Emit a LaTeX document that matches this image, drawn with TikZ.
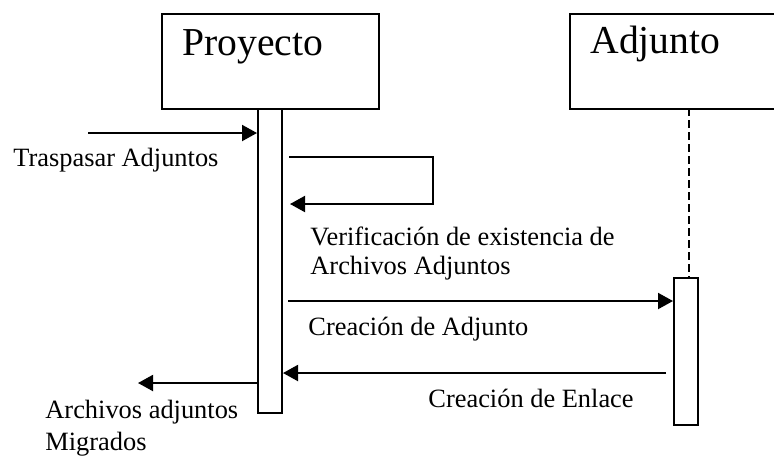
\documentclass[tikz,border=0pt]{standalone}
\usepackage{fontspec}
\setmainfont{Liberation Serif}
\usetikzlibrary{arrows.meta}
\tikzset{
    obj/.style={draw, line width=1pt, inner sep=0pt, anchor=north west},
    act/.style={draw, line width=1pt, fill=white, inner sep=0pt, minimum width=12pt, anchor=north west},
    msg/.style={line width=1pt, -{Triangle[length=7.5pt,width=8pt]}},
    lbl/.style={anchor=base west, inner sep=0pt, font=\fontsize{13.2}{14.5}\selectfont, align=left},
    title/.style={anchor=base west, inner sep=0pt, font=\fontsize{19.8}{22}\selectfont}
}
\begin{document}
\begin{tikzpicture}[x=0.5pt,y=-0.5pt]
        \useasboundingbox (0,0) rectangle (774,457);
        \clip (0,0) rectangle (774,457);

        % Objects
        \node[obj, minimum width=108.5pt, minimum height=47.5pt] (proyecto) at (161,13) {};
        \node[title] (proyectoT) at (182,55) {Proyecto};
        \node[obj, minimum width=110pt, minimum height=47.5pt] (adjunto) at (569,13) {};
        \node[title] (adjuntoT) at (590,53) {Adjunto};

        % Lifeline of Adjunto
        \coordinate (lifeA) at (689,108);
        \node[act, minimum height=73.5pt] (barA) at (673,277) {};
        \draw[line width=0.7pt, dash pattern=on 4pt off 2pt] (lifeA) -- (lifeA |- barA.north);

        % Activation of Proyecto
        \node[act, minimum height=152pt] (barP) at (257,108) {};

        % Incoming message
        \coordinate (inS) at (88,133);
        \draw[msg] (inS) -- (inS -| barP.west);
        \node[lbl] (inL) at (13,166) {Traspasar Adjuntos};

        % Self call
        \coordinate (selfS) at (289,157);
        \coordinate (selfC) at (433,204);
        \coordinate (selfE) at (290,204);
        \draw[msg] (selfS) -| (selfC) -- (selfE);
        \node[lbl] (selfL) at (310,274) {Verificación de existencia de\\Archivos Adjuntos};

        % Proyecto to Adjunto
        \coordinate (crearS) at (288,301);
        \draw[msg] (crearS) -- (crearS -| barA.west);
        \node[lbl] (crearL) at (308,335) {Creación de Adjunto};

        % Adjunto back to Proyecto
        \coordinate (enlaceS) at (666,373);
        \draw[msg] (enlaceS) -- (enlaceS -| barP.east);
        \node[lbl] (enlaceL) at (428,407) {Creación de Enlace};

        % Outgoing result
        \coordinate (outE) at (138,383);
        \draw[msg] (outE -| barP.west) -- (outE);
        \node[lbl, font=\fontsize{13.2}{16}\selectfont] (outL) at (45,450) {Archivos adjuntos\\Migrados};
    \end{tikzpicture}
\end{document}
